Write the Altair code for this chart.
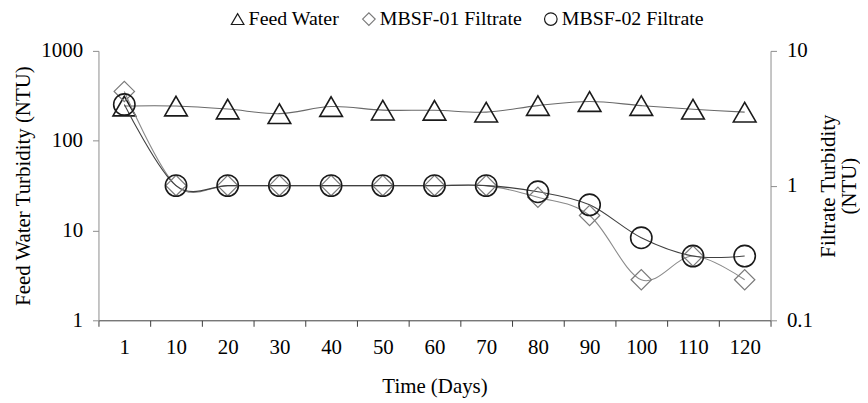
import altair as alt
import pandas as pd

days = ["1", "10", "20", "30", "40", "50", "60", "70", "80", "90", "100", "110", "120"]
feed_water = [243, 243, 225, 200, 240, 219, 218, 208, 246, 273, 246, 224, 208]
mbsf01 = [5.0, 1.0, 1.0, 1.0, 1.0, 1.0, 1.0, 1.0, 0.82, 0.60, 0.20, 0.30, 0.20]
mbsf02 = [4.0, 1.0, 1.0, 1.0, 1.0, 1.0, 1.0, 1.0, 0.90, 0.72, 0.41, 0.30, 0.30]
series_names = ["Feed Water", "MBSF-01 Filtrate", "MBSF-02 Filtrate"]

rows = []
for name, vals in zip(series_names, [feed_water, mbsf01, mbsf02]):
    for d, v in zip(days, vals):
        rows.append({"Day": d, "Series": name, "Value": v})
df = pd.DataFrame(rows)

FONT = "Liberation Serif, Times New Roman, DejaVu Serif, serif"

x = alt.X(
    "Day:O",
    sort=days,
    scale=alt.Scale(type="band", paddingInner=0, paddingOuter=0),
    axis=alt.Axis(
        title="Time (Days)",
        labelAngle=0,
        tickBand="extent",
        domainColor="#3c3c3c",
        tickColor="#3c3c3c",
        tickSize=6,
        labelPadding=10,
        titlePadding=19,
    ),
)

y_left = alt.Y(
    "Value:Q",
    scale=alt.Scale(type="log", domain=[1, 1000]),
    axis=alt.Axis(
        orient="left",
        values=[1, 10, 100, 1000],
        format="~g",
        title="Feed Water Turbidity (NTU)",
        domainColor="#8c8c8c",
        tickColor="#8c8c8c",
        tickSize=6,
        labelPadding=10,
        titlePadding=7,
    ),
)

y_right = alt.Y(
    "Value:Q",
    scale=alt.Scale(type="log", domain=[0.1, 10]),
    axis=alt.Axis(
        orient="right",
        values=[0.1, 1, 10],
        format="~g",
        title=["Filtrate Turbidity", "(NTU)"],
        titleAngle=270,
        titleLineHeight=21,
        domainColor="#8c8c8c",
        tickColor="#8c8c8c",
        tickSize=6,
        labelPadding=10,
        titlePadding=5,
    ),
)

legend = alt.Legend(
    title=None,
    orient="none",
    legendX=130,
    legendY=-42,
    direction="horizontal",
    labelFont=FONT,
    labelFontSize=20,
    labelColor="#000000",
    symbolSize=160,
    symbolStrokeWidth=1.2,
    columnPadding=19,
    labelOffset=1,
)

shape = alt.Shape(
    "Series:N",
    scale=alt.Scale(domain=series_names, range=["triangle-up", "diamond", "circle"]),
    legend=legend,
)
stroke = alt.Stroke(
    "Series:N",
    scale=alt.Scale(domain=series_names, range=["#1a1a1a", "#7a7a7a", "#1a1a1a"]),
    legend=legend,
)

base = alt.Chart(df)

feed_line = base.transform_filter(alt.datum.Series == "Feed Water").mark_line(
    interpolate="cardinal", color="#6a6a6a", strokeWidth=1.1
).encode(x=x, y=y_left)

feed_pts = base.transform_filter(alt.datum.Series == "Feed Water").mark_point(
    filled=False, size=520, strokeWidth=1.6, opacity=1
).encode(x=x, y=y_left, shape=shape, stroke=stroke)

left = alt.layer(feed_line, feed_pts)

m1_line = base.transform_filter(alt.datum.Series == "MBSF-01 Filtrate").mark_line(
    interpolate="cardinal", color="#8a8a8a", strokeWidth=1.1
).encode(x=x, y=y_right)

m2_line = base.transform_filter(alt.datum.Series == "MBSF-02 Filtrate").mark_line(
    interpolate="cardinal", color="#404040", strokeWidth=1.1
).encode(x=x, y=y_right)

m1_pts = base.transform_filter(alt.datum.Series == "MBSF-01 Filtrate").mark_point(
    filled=False, size=420, strokeWidth=1.2, opacity=1
).encode(x=x, y=y_right, shape=shape, stroke=stroke)

m2_pts = base.transform_filter(alt.datum.Series == "MBSF-02 Filtrate").mark_point(
    filled=False, size=460, strokeWidth=1.6, opacity=1
).encode(x=x, y=y_right, shape=shape, stroke=stroke)

right = alt.layer(m1_line, m2_line, m1_pts, m2_pts)

chart = (
    alt.layer(left, right)
    .resolve_scale(y="independent")
    .properties(width=676, height=271, padding={"left": 4, "top": 0, "right": 0, "bottom": 0})
    .configure_view(stroke=None)
    .configure_axis(
        grid=False,
        labelFont=FONT,
        labelFontSize=21,
        labelColor="#000000",
        titleFont=FONT,
        titleFontSize=21,
        titleFontWeight="normal",
        titleColor="#000000",
    )
)

chart.save("out.html", embed_options={"renderer": "svg", "actions": False})
